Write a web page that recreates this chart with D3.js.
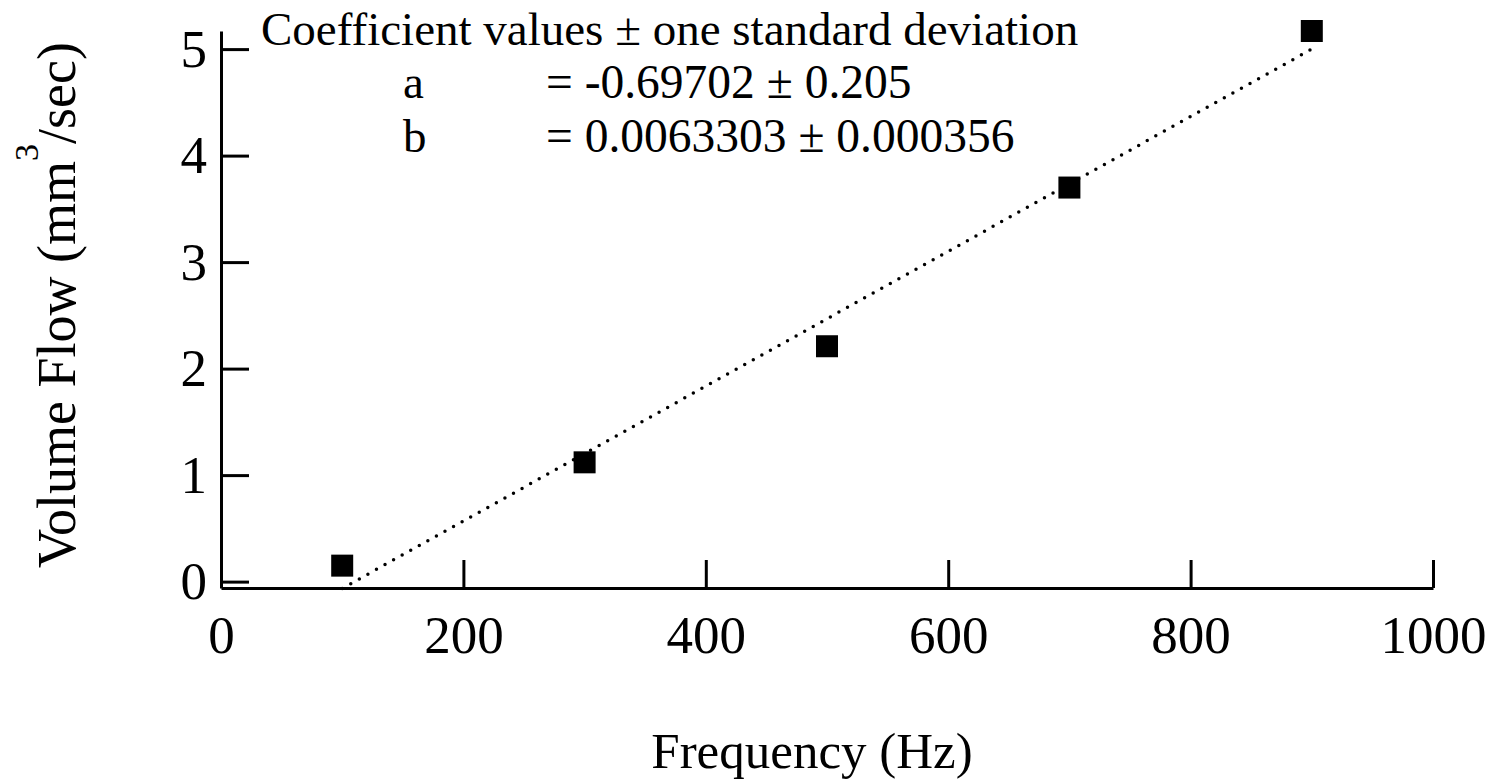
<!DOCTYPE html>
<html>
<head>
<meta charset="utf-8">
<script src="https://cdn.jsdelivr.net/npm/d3@7"></script>
<style>
  html, body { margin: 0; padding: 0; background: #fff; }
  svg text { font-family: "Liberation Serif", "Times New Roman", serif; fill: #000; }
</style>
</head>
<body>
<div id="chart"></div>
<script>
// measured data
const freqs = [100, 300, 500, 700, 900];
const flows = [0.15, 1.12, 2.21, 3.70, 5.17];
const fitA = -0.69702;
const fitB = 0.0063303;
const xTicks = [0, 200, 400, 600, 800, 1000];
const yTicks = [0, 1, 2, 3, 4, 5];
const legendLines = [
  { name: 'a', value: '= -0.69702 \u00b1 0.205' },
  { name: 'b', value: '= 0.0063303 \u00b1 0.000356' }
];

const width = 1497, height = 784;
const svg = d3.select('#chart').append('svg')
  .attr('width', width)
  .attr('height', height);

const x = d3.scaleLinear().domain([0, 1000]).range([221, 1433]);
const y = d3.scaleLinear().domain([-0.06, 5.17]).range([588, 31]);

// x axis, ticks pointing inward
svg.append('g')
  .attr('transform', `translate(0,${y(-0.06)})`)
  .call(d3.axisBottom(x).tickValues(xTicks).tickSizeInner(-28).tickSizeOuter(0).tickPadding(27).tickFormat(d3.format('d')));

svg.append('g')
  .attr('transform', `translate(${x(0)},0)`)
  .call(d3.axisLeft(y).tickValues(yTicks).tickSizeInner(-28).tickSizeOuter(0).tickPadding(14).tickFormat(d3.format('d')));

svg.selectAll('.domain, .tick line').attr('stroke', '#000').attr('stroke-width', 3);
svg.selectAll('.tick text').attr('font-size', 53).attr('font-family', '"Liberation Serif", serif').attr('fill', '#000');

// fit line
svg.append('line')
  .attr('x1', x(freqs[0]))
  .attr('y1', y(fitA + fitB * freqs[0]))
  .attr('x2', x(freqs[freqs.length - 1]))
  .attr('y2', y(fitA + fitB * freqs[freqs.length - 1]))
  .attr('stroke', '#000')
  .attr('stroke-width', 3.5)
  .attr('stroke-linecap', 'round')
  .attr('stroke-dasharray', '0 9.8');

// markers
const size = 22;
svg.selectAll('rect.pt')
  .data(freqs.map((f, i) => ({ f, v: flows[i] })))
  .join('rect')
  .attr('class', 'pt')
  .attr('x', d => x(d.f) - size / 2)
  .attr('y', d => y(d.v) - size / 2)
  .attr('width', size)
  .attr('height', size)
  .attr('fill', '#000');

// coefficient box
const legend = svg.append('g');
legend.append('text')
  .attr('x', 261)
  .attr('y', 45)
  .attr('font-size', 47)
  .text('Coefficient values \u00b1 one standard deviation');
legendLines.forEach((d, i) => {
  legend.append('text').attr('x', 403).attr('y', 98 + i * 54).attr('font-size', 47).text(d.name);
  legend.append('text').attr('x', 546).attr('y', 98 + i * 54).attr('font-size', 47.5).text(d.value);
});

// axis titles
svg.append('text')
  .attr('x', 812)
  .attr('y', 768)
  .attr('text-anchor', 'middle')
  .attr('font-size', 51)
  .text('Frequency (Hz)');

const yTitle = svg.append('text')
  .attr('transform', 'translate(75,305) rotate(-90)')
  .attr('text-anchor', 'middle')
  .attr('font-size', 54);
yTitle.append('tspan').text('Volume Flow (mm');
yTitle.append('tspan').attr('font-size', 34).attr('dy', -37).text('3');
yTitle.append('tspan').attr('dy', 37).text('/sec)');
</script>
</body>
</html>
